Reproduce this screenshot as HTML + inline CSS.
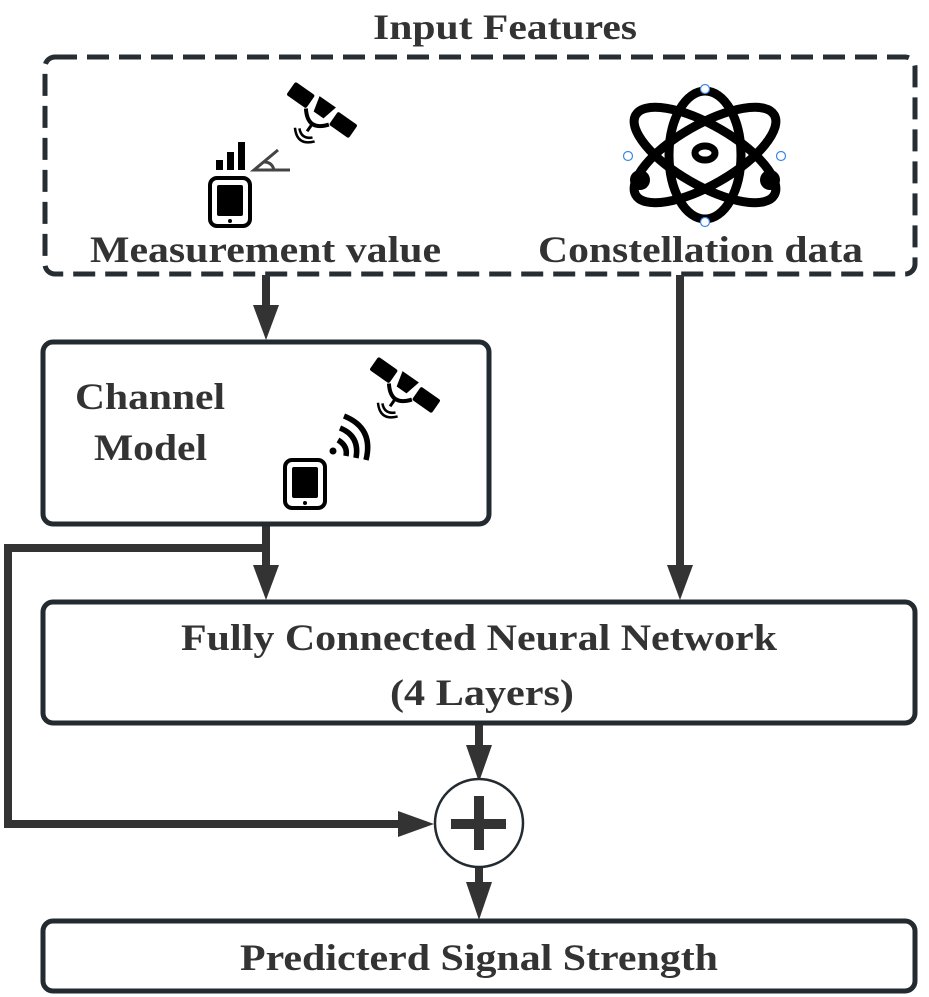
<!DOCTYPE html>
<html><head><meta charset="utf-8"><style>html,body{margin:0;padding:0;background:#fff}svg{display:block}</style></head>
<body>
<svg width="929" height="997" viewBox="0 0 929 997" xmlns="http://www.w3.org/2000/svg">
<defs>
<marker id="ah" markerWidth="10" markerHeight="10" refX="0" refY="5" orient="auto" markerUnits="userSpaceOnUse" viewBox="0 0 10 10"><path d="M0,0 L10,5 L0,10 z" fill="#333"/></marker>
<g id="phone">
<rect x="0" y="0" width="40" height="48" rx="7" fill="#fff" stroke="#000" stroke-width="4"/>
<rect x="7" y="7" width="26" height="31" rx="2" fill="#000"/>
<circle cx="20" cy="43" r="2" fill="#000"/>
</g>
<g id="sat">
<rect x="-38" y="-8" width="24" height="16" rx="2" fill="#000"/>
<rect x="14" y="-8" width="24" height="16" rx="2" fill="#000"/>
<path d="M-10,-10 L10,-10 L6,6 L-6,6 z" fill="#000"/>
<path d="M-14,8 Q0,26 14,8" fill="#fff" stroke="#000" stroke-width="4"/>
<path d="M0,18 L0,26" stroke="#000" stroke-width="3"/>
<path d="M-8,28 Q0,36 8,28" fill="none" stroke="#000" stroke-width="2.5"/>
<path d="M-12,30 Q0,44 12,30" fill="none" stroke="#000" stroke-width="2.5"/>
</g>
</defs>
<g font-family="Liberation Serif, serif" font-weight="bold" fill="#333">
<text x="505" y="39" font-size="36" text-anchor="middle" textLength="264" lengthAdjust="spacingAndGlyphs">Input Features</text>
</g>
<!-- dashed box -->
<rect x="45" y="57" width="870" height="217" rx="10" fill="none" stroke="#262d33" stroke-width="5" stroke-dasharray="22 10"/>
<!-- connectors -->
<g stroke="#333" stroke-width="8" fill="none">
<line x1="266" y1="275" x2="266" y2="310" marker-end="url(#ah)"/>
<line x1="680" y1="275" x2="680" y2="570" marker-end="url(#ah)"/>
<polyline points="266,525 266,548 8,548 8,824 404,824"/>
<line x1="266" y1="548" x2="266" y2="570" marker-end="url(#ah)"/>
<line x1="479" y1="724" x2="479" y2="752" marker-end="url(#ah)"/>
<line x1="479" y1="866" x2="479" y2="890" marker-end="url(#ah)"/>
<line x1="400" y1="824" x2="404" y2="824" marker-end="url(#ah)"/>
</g>
<!-- arrowheads explicit -->
<g fill="#333">
<path d="M253,305 L279,305 L266,340 z"/>
<path d="M667,565 L693,565 L680,600 z"/>
<path d="M253,565 L279,565 L266,600 z"/>
<path d="M466,745 L492,745 L479,782 z"/>
<path d="M466,882 L492,882 L479,920 z"/>
<path d="M398,811 L398,837 L434,824 z"/>
</g>
<!-- boxes -->
<g fill="#fff" stroke="#232b31" stroke-width="5">
<rect x="43" y="342" width="446" height="182" rx="10"/>
<rect x="43" y="602" width="872" height="121" rx="10"/>
<rect x="43" y="921" width="872" height="70" rx="10"/>
</g>
<circle cx="479" cy="823" r="44" fill="#fff" stroke="#232b31" stroke-width="2.5"/>
<rect x="451" y="819" width="55" height="10" fill="#333"/>
<rect x="474" y="796" width="10" height="54" fill="#333"/>
<!-- icons: measurement -->
<use href="#phone" x="210" y="178"/>
<rect x="216" y="160" width="7" height="10" fill="#000"/>
<rect x="227" y="152" width="7" height="18" fill="#000"/>
<rect x="238" y="142" width="7" height="28" fill="#000"/>
<path d="M278,150 L254,170 L290,170" fill="none" stroke="#444" stroke-width="3"/>
<path d="M264,162 Q272,162 274,170" fill="none" stroke="#444" stroke-width="3"/>
<use href="#sat" transform="translate(322,110) rotate(35)"/>
<!-- channel icons -->
<use href="#phone" x="285" y="460"/>
<use href="#sat" transform="translate(405,385) rotate(35)"/>
<g fill="none" stroke="#000" stroke-width="5.5">
<circle cx="333" cy="451" r="3.5" fill="#000" stroke="none"/>
<path d="M338,440 Q348,446 346,456"/>
<path d="M340,428 Q360,436 356,458"/>
<path d="M344,416 Q374,428 366,460"/>
</g>
<!-- atom -->
<g fill="none" stroke="#000" stroke-width="9" transform="translate(705,155)">
<ellipse cx="0" cy="0" rx="36" ry="64"/>
<ellipse cx="0" cy="0" rx="80" ry="30" transform="rotate(30)"/>
<ellipse cx="0" cy="0" rx="80" ry="30" transform="rotate(-30)"/>
<ellipse cx="0" cy="-2" rx="10" ry="7" stroke-width="7"/>
</g>
<circle cx="640" cy="180" r="10" fill="#000"/>
<circle cx="770" cy="180" r="10" fill="#000"/>
<g fill="#fff" stroke="#3a87e8" stroke-width="1.2">
<circle cx="705" cy="89" r="4.5"/><circle cx="705" cy="222" r="4.5"/>
<circle cx="628" cy="156" r="4.5"/><circle cx="781" cy="156" r="4.5"/>
</g>
<!-- text -->
<g font-family="Liberation Serif, serif" font-weight="bold" fill="#333" font-size="37">
<text x="90" y="262" textLength="351" lengthAdjust="spacingAndGlyphs">Measurement value</text>
<text x="538" y="262" textLength="325" lengthAdjust="spacingAndGlyphs">Constellation data</text>
<text x="75" y="409" textLength="150" lengthAdjust="spacingAndGlyphs">Channel</text>
<text x="94" y="460" textLength="113" lengthAdjust="spacingAndGlyphs">Model</text>
<text x="181" y="650" textLength="596" lengthAdjust="spacingAndGlyphs">Fully Connected Neural Network</text>
<text x="390" y="705" textLength="184" lengthAdjust="spacingAndGlyphs">(4 Layers)</text>
<text x="240" y="970" textLength="478" lengthAdjust="spacingAndGlyphs">Predicterd Signal Strength</text>
</g>
</svg>
</body></html>
